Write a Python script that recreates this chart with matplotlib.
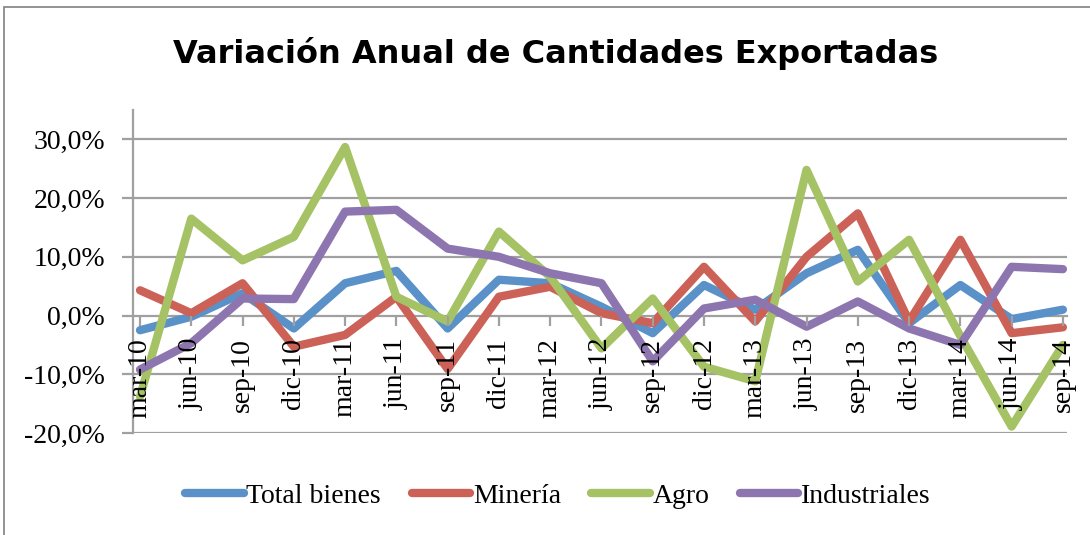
import matplotlib
matplotlib.use("Agg")
import matplotlib.pyplot as plt
from matplotlib.patches import Rectangle
from matplotlib.ticker import FuncFormatter, FixedLocator

categories = ["mar-10", "jun-10", "sep-10", "dic-10", "mar-11", "jun-11", "sep-11",
              "dic-11", "mar-12", "jun-12", "sep-12", "dic-12", "mar-13", "jun-13",
              "sep-13", "dic-13", "mar-14", "jun-14", "sep-14"]

total_bienes = [-2.5, -0.2, 3.8, -2.2, 5.5, 7.6, -2.2, 6.1, 5.5, 1.5, -3.0, 5.2, 1.0,
                7.2, 11.2, -1.3, 5.2, -0.6, 1.0]
mineria = [4.3, 0.4, 5.5, -5.3, -3.3, 3.2, -9.1, 3.2, 4.9, 0.4, -1.3, 8.3, -1.0,
           10.0, 17.4, -1.0, 12.9, -3.0, -2.0]
agro = [-13.8, 16.5, 9.4, 13.4, 28.7, 3.2, -1.0, 14.3, 6.6, -5.6, 2.9, -8.7, -11.2,
        24.8, 5.8, 12.9, -3.5, -18.9, -5.0]
industriales = [-9.2, -4.7, 2.9, 2.8, 17.7, 18.0, 11.4, 10.0, 7.2, 5.5, -7.8, 1.2, 2.7,
                -1.9, 2.4, -2.2, -5.0, 8.3, 7.9]

series_names = ["Total bienes", "Minería", "Agro", "Industriales"]
series_values = [total_bienes, mineria, agro, industriales]
series_colors = ["#5A91C8", "#CC6158", "#A5C265", "#8D75AF"]

yticks = [-20, -10, 0, 10, 20, 30]

W, H = 1090, 535
fig = plt.figure(figsize=(W / 100, H / 100), dpi=100)
fig.patch.set_facecolor("white")

# chart area border
fig.patches.append(Rectangle((4 / W, -0.1), 1.2, 1 - 7 / H + 0.1, transform=fig.transFigure,
                             fill=False, edgecolor="#8a8a8a", linewidth=1.3, zorder=0))

left, right, top, bottom = 133, 1067, 110, 433
ax = fig.add_axes([left / W, 1 - bottom / H, (right - left) / W, (bottom - top) / H])

x = list(range(len(categories)))
grid_color = "#a0a0a0"
for yv in yticks:
    if yv != 0:
        ax.axhline(yv, color=grid_color, linewidth=1.6, zorder=1)

for name, vals, col in zip(series_names, series_values, series_colors):
    ax.plot(x, vals, color=col, linewidth=6.0, label=name, zorder=2,
            solid_capstyle="round", solid_joinstyle="round")

ax.set_xlim(-0.137, 18.08)
ax.set_ylim(-20, 35)

serif = "Liberation Serif"
for s in ["top", "right"]:
    ax.spines[s].set_visible(False)
ax.spines["left"].set_color(grid_color)
ax.spines["left"].set_linewidth(1.6)
ax.spines["left"].set_bounds(-20, 35)
ax.spines["bottom"].set_position(("data", 0))
ax.spines["bottom"].set_color(grid_color)
ax.spines["bottom"].set_linewidth(1.6)
ax.spines["bottom"].set_zorder(1)
ax.spines["left"].set_zorder(1)

ax.yaxis.set_major_locator(FixedLocator(yticks))
ax.yaxis.set_major_formatter(FuncFormatter(lambda v, p: f"{v:.1f}%".replace(".", ",")))
ax.tick_params(axis="y", direction="out", length=8, width=1.6, color=grid_color,
               labelsize=20, pad=12)
ax.set_xticks(x)
ax.set_xticklabels(categories, rotation=90, fontsize=20, family=serif, va="top", ha="center")
ax.tick_params(axis="x", direction="out", length=7, width=1.6, color=grid_color, pad=9)
for lbl in ax.get_yticklabels():
    lbl.set_family(serif)
ax.xaxis.set_zorder(5)

fig.text(556 / W, 1 - 54 / H, "Variación Anual de Cantidades Exportadas", ha="center",
         va="center", fontsize=23, fontweight="bold", family="DejaVu Sans")

leg = fig.legend(loc="center", bbox_to_anchor=(558 / W, 1 - 496 / H), ncol=4, frameon=False,
                 prop={"family": serif, "size": 20}, handlelength=2.1, handletextpad=0.1,
                 columnspacing=1.1, borderaxespad=0)
for h in leg.legend_handles:
    h.set_linewidth(6)

fig.savefig("out.png", dpi=100, facecolor="white")
